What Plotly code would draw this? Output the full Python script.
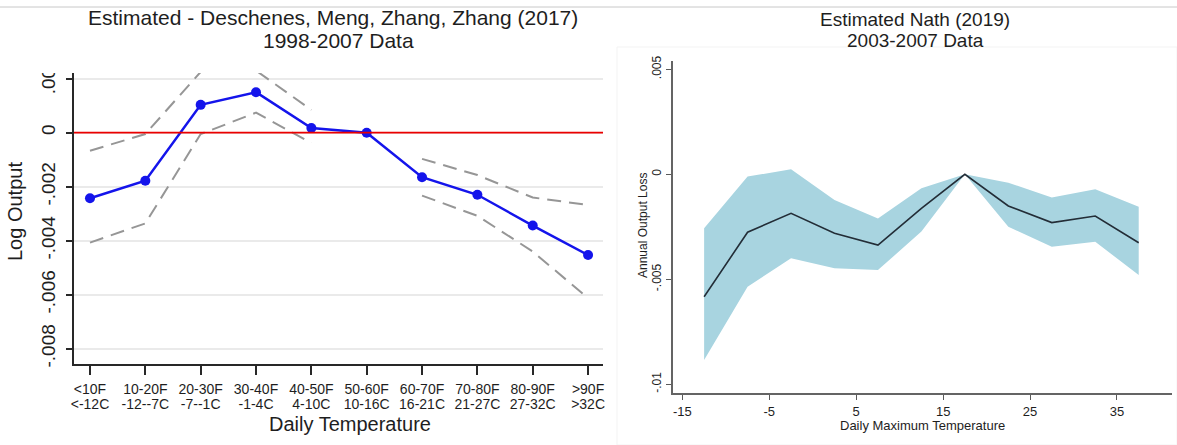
import plotly.graph_objects as go

# ---------------- data: left panel (Deschenes, Meng, Zhang, Zhang 2017) ----------------
bins_f = ["&lt;10F", "10-20F", "20-30F", "30-40F", "40-50F", "50-60F", "60-70F", "70-80F", "80-90F", "&gt;90F"]
bins_c = ["&lt;-12C", "-12--7C", "-7--1C", "-1-4C", "4-10C", "10-16C", "16-21C", "21-27C", "27-32C", "&gt;32C"]
left_est = [-0.00243, -0.00178, 0.00103, 0.00150, 0.00017, 0.0, -0.00165, -0.00230, -0.00344, -0.00453]
left_hi = [-0.00067, -0.00005, 0.00225, 0.00230, 0.00084, None, -0.00097, -0.00157, -0.00240, -0.00268]
left_lo = [-0.00407, -0.00336, -0.00005, 0.00074, -0.00038, None, -0.00233, -0.00308, -0.00440, -0.00613]
left_yticks = [-0.008, -0.006, -0.004, -0.002, 0.0, 0.002]
left_ytext = ["-.008", "-.006", "-.004", "-.002", "0", ".002"]

# ---------------- data: right panel (Nath 2019) ----------------
temp_max = [-12.5, -7.5, -2.5, 2.5, 7.5, 12.5, 17.5, 22.5, 27.5, 32.5, 37.5]
right_est = [-0.00583, -0.00276, -0.00186, -0.00281, -0.00337, -0.00162, 0.0, -0.00151, -0.00230, -0.00199, -0.00326]
right_hi = [-0.00257, -0.00011, 0.00024, -0.00122, -0.00210, -0.00067, 0.0, -0.00040, -0.00110, -0.00071, -0.00154]
right_lo = [-0.00884, -0.00535, -0.00400, -0.00448, -0.00456, -0.00273, 0.0, -0.00250, -0.00345, -0.00321, -0.00480]
right_xticks = [-15, -5, 5, 15, 25, 35]
right_xtext = ["-15", "-5", "5", "15", "25", "35"]
right_yticks = [-0.01, -0.005, 0.0, 0.005]
right_ytext = ["-.01", "-.005", "0", ".005"]

W, H = 1177, 445
FONT = "Liberation Sans, Arial, sans-serif"

def px_x(p):
    return p / W

def px_y(p):
    return 1 - p / H

idx = list(range(len(bins_f)))
fig = go.Figure()

# left: CI dashed
for ci in (left_hi, left_lo):
    fig.add_trace(go.Scatter(x=idx, y=ci, mode="lines", connectgaps=False,
                             line=dict(color="rgb(150,150,150)", width=2, dash="14px,8px"),
                             xaxis="x", yaxis="y", showlegend=False, hoverinfo="skip"))
# left: estimate
fig.add_trace(go.Scatter(x=idx, y=left_est, mode="lines+markers",
                         line=dict(color="rgb(20,20,235)", width=2.5),
                         marker=dict(color="rgb(20,20,235)", size=10),
                         xaxis="x", yaxis="y", showlegend=False))
# invisible carrier for the second (Celsius) row of category labels
fig.add_trace(go.Scatter(x=idx, y=left_est, mode="markers", marker=dict(opacity=0),
                         xaxis="x3", yaxis="y", showlegend=False, hoverinfo="skip"))

# right: band
fig.add_trace(go.Scatter(x=temp_max, y=right_hi, mode="lines", line=dict(width=0, color="rgba(0,0,0,0)"),
                         xaxis="x2", yaxis="y2", showlegend=False, hoverinfo="skip"))
fig.add_trace(go.Scatter(x=temp_max, y=right_lo, mode="lines", line=dict(width=0, color="rgba(0,0,0,0)"),
                         fill="tonexty", fillcolor="rgb(168,212,224)",
                         xaxis="x2", yaxis="y2", showlegend=False, hoverinfo="skip"))
fig.add_trace(go.Scatter(x=temp_max, y=right_est, mode="lines",
                         line=dict(color="rgb(35,45,55)", width=1.6),
                         xaxis="x2", yaxis="y2", showlegend=False))

axis_font = dict(family=FONT, color="rgb(30,30,30)")

fig.update_layout(
    width=W, height=H, margin=dict(l=0, r=0, t=0, b=0, autoexpand=False),
    paper_bgcolor="white", plot_bgcolor="white",
    font=dict(family=FONT, color="rgb(30,30,30)"),
    xaxis=dict(domain=[px_x(74), px_x(603)], range=[-0.289, 9.27],
               tickvals=idx, ticktext=bins_f,
               tickfont=dict(size=14, **axis_font), ticks="outside", ticklen=9, tickwidth=1.5,
               tickcolor="rgb(40,40,40)", showline=True, linecolor="rgb(40,40,40)", linewidth=1.5,
               showgrid=False, zeroline=False, anchor="y", tickangle=0, automargin=False,
               ticklabelstandoff=2),
    xaxis3=dict(overlaying="x", matches="x", anchor="y", side="bottom",
                tickvals=idx, ticktext=bins_c,
                tickfont=dict(size=14, **axis_font), ticks="outside", ticklen=9, tickcolor="rgba(0,0,0,0)",
                showline=False, showgrid=False, zeroline=False, tickangle=0, automargin=False,
                ticklabelstandoff=18),
    yaxis=dict(domain=[px_y(364), px_y(73)], range=[-0.008567, 0.00221],
               tickvals=left_yticks, ticktext=left_ytext, tickangle=-90,
               tickfont=dict(size=19, **axis_font), ticks="outside", ticklen=6, tickwidth=1.5,
               tickcolor="rgb(40,40,40)", showline=True, linecolor="rgb(40,40,40)", linewidth=1.5,
               showgrid=True, gridcolor="rgb(234,234,234)", gridwidth=1.5, zeroline=False,
               anchor="x", ticklabelstandoff=4, automargin=False),
    xaxis2=dict(domain=[px_x(673), px_x(1172)], range=[-16.08, 41.33],
                tickvals=right_xticks, ticktext=right_xtext,
                tickfont=dict(size=13, **axis_font), ticks="outside", ticklen=5, tickwidth=1.2,
                tickcolor="rgb(90,90,90)", showline=True, linecolor="rgb(100,100,100)", linewidth=1.5,
                showgrid=False, zeroline=False, anchor="y2", tickangle=0, automargin=False),
    yaxis2=dict(domain=[px_y(393.3), px_y(60.7)], range=[-0.01043, 0.00541],
                tickvals=right_yticks, ticktext=right_ytext, tickangle=-90,
                tickfont=dict(size=12, **axis_font), ticks="outside", ticklen=5, tickwidth=1.2,
                tickcolor="rgb(90,90,90)", showline=True, linecolor="rgb(100,100,100)", linewidth=1.5,
                showgrid=False, zeroline=False, anchor="x2", automargin=False),
)

# red zero line (left)
fig.add_shape(type="line", xref="x domain", yref="y", x0=0, x1=1, y0=0, y1=0,
              line=dict(color="rgb(235,0,0)", width=1.8), layer="above")
# top separator line
fig.add_shape(type="line", xref="paper", yref="paper", x0=0, x1=1, y0=px_y(7), y1=px_y(7),
              line=dict(color="rgb(200,200,200)", width=1))
# faint right graph-region border
fig.add_shape(type="rect", xref="paper", yref="paper", x0=px_x(617), x1=1, y0=0, y1=px_y(47),
              line=dict(color="rgb(243,243,243)", width=1), layer="below")
# mask for cropped top of left panel tick label
fig.add_shape(type="rect", xref="paper", yref="paper", x0=0, x1=px_x(66), y0=px_y(73), y1=px_y(50),
              line=dict(width=0), fillcolor="white", layer="above")

anns = [
    dict(text="Estimated - Deschenes, Meng, Zhang, Zhang (2017)", x=px_x(333), y=px_y(17), size=21),
    dict(text="1998-2007 Data", x=px_x(338), y=px_y(40), size=21),
    dict(text="Estimated Nath (2019)", x=px_x(915), y=px_y(19), size=19),
    dict(text="2003-2007 Data", x=px_x(915), y=px_y(41), size=19),
    dict(text="Daily Temperature", x=px_x(350), y=px_y(424), size=20),
    dict(text="Daily Maximum Temperature", x=px_x(922), y=px_y(425), size=13),
]
for a in anns:
    fig.add_annotation(text=a["text"], x=a["x"], y=a["y"], xref="paper", yref="paper",
                       xanchor="center", yanchor="middle", showarrow=False,
                       font=dict(family=FONT, size=a["size"], color="rgb(30,30,30)"))
fig.add_annotation(text="Log Output", x=px_x(15), y=px_y(212), xref="paper", yref="paper",
                   xanchor="center", yanchor="middle", showarrow=False, textangle=-90,
                   font=dict(family=FONT, size=20, color="rgb(30,30,30)"))
fig.add_annotation(text="Annual Output Loss", x=px_x(643), y=px_y(226), xref="paper", yref="paper",
                   xanchor="center", yanchor="middle", showarrow=False, textangle=-90,
                   font=dict(family=FONT, size=12, color="rgb(30,30,30)"))

fig.write_html("out.html")
